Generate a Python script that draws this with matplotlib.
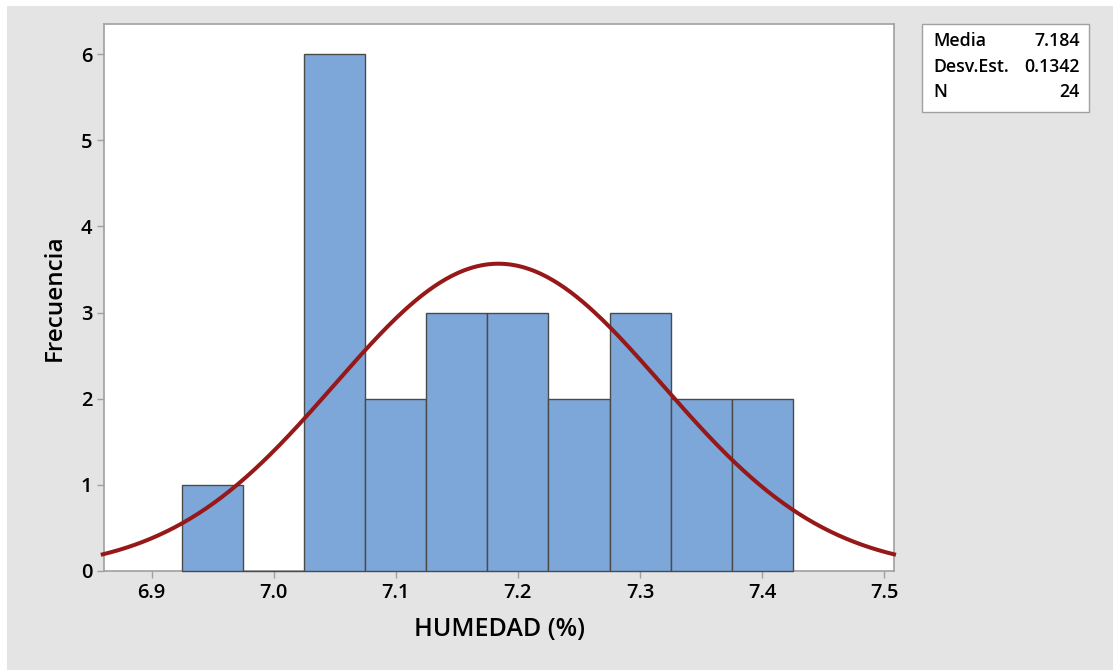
import numpy as np
import matplotlib.pyplot as plt
from matplotlib.patches import Rectangle

# histogram data (bin midpoints, counts)
bin_mids = [6.95, 7.00, 7.05, 7.10, 7.15, 7.20, 7.25, 7.30, 7.35, 7.40]
counts = [1, 0, 6, 2, 3, 3, 2, 3, 2, 2]
bin_width = 0.05

# summary stats shown in the box
media = 7.184
desv = 0.1342
n = 24

plt.rcParams['font.family'] = ['Open Sans', 'DejaVu Sans']

W, H = 1113, 670
fig = plt.figure(figsize=(W / 100, H / 100), dpi=100)
fig.patch.set_facecolor('white')
fig.patches.append(Rectangle((7 / W, 0), 1, 1 - 6 / H, transform=fig.transFigure,
                             facecolor='#e4e4e4', edgecolor='none', zorder=-10))

ax = fig.add_axes([104 / W, 1 - 571 / H, (894 - 104) / W, (571 - 24) / H])
ax.bar(bin_mids, counts, width=bin_width, color='#7da7d9', edgecolor='#4a4a4a',
       linewidth=1.0, zorder=3, clip_on=False)

# fitted normal curve
xs = np.linspace(6.86, 7.508, 400)
ys = n * bin_width * np.exp(-0.5 * ((xs - media) / desv) ** 2) / (desv * np.sqrt(2 * np.pi))
ax.plot(xs, ys, color='#961818', linewidth=2.9, zorder=4, clip_on=False)

ax.set_xlim(6.861, 7.508)
ax.set_ylim(0, 6.35)
ax.set_xticks([6.9, 7.0, 7.1, 7.2, 7.3, 7.4, 7.5])
ax.set_xticklabels(['6.9', '7.0', '7.1', '7.2', '7.3', '7.4', '7.5'])
ax.set_yticks(range(7))
for s in ax.spines.values():
    s.set_color('#a0a0a0')
    s.set_linewidth(1.2)
ax.tick_params(colors='#a0a0a0', labelcolor='black', labelsize=14.5, length=5, width=1)
for lbl in ax.get_xticklabels() + ax.get_yticklabels():
    lbl.set_fontweight('semibold')

ax.set_xlabel('HUMEDAD (%)', fontsize=18, fontweight='semibold', labelpad=10)
ax.set_ylabel('Frecuencia', fontsize=17.5, fontweight='semibold', labelpad=10)

# stats box
bx0, by0, bx1, by1 = 922, 24, 1089, 112
fig.patches.append(Rectangle((bx0 / W, 1 - by1 / H), (bx1 - bx0) / W, (by1 - by0) / H,
                             transform=fig.transFigure, facecolor='white',
                             edgecolor='#a0a0a0', linewidth=1.0))
rows = [('Media', '7.184'), ('Desv.Est.', '0.1342'), ('N', '24')]
for i, (k, v) in enumerate(rows):
    yy = 1 - (41 + i * 25.5) / H
    fig.text(933 / W, yy, k, fontsize=12.8, fontweight='semibold', va='center', ha='left')
    fig.text(1080 / W, yy, v, fontsize=12.8, fontweight='semibold', va='center', ha='right')

fig.savefig('out.png', dpi=100)
